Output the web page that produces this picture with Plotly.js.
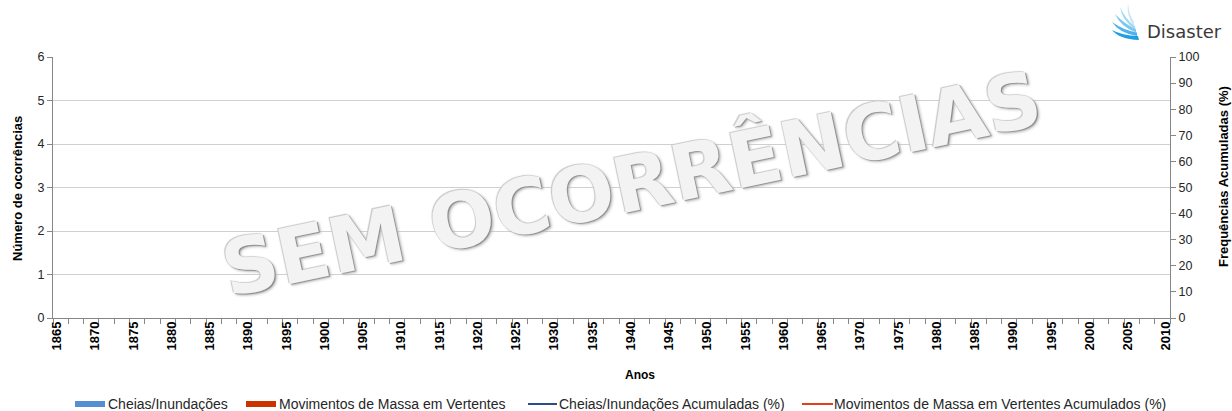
<!DOCTYPE html>
<html>
<head>
<meta charset="utf-8">
<script src="https://cdn.plot.ly/plotly-3.0.1.min.js"></script>
<style>html,body{margin:0;padding:0;background:#fff;}#chart{width:1232px;height:411px;}</style>
</head>
<body>
<div id="chart"></div>
<script>
// ---- data (no occurrences recorded) ----
const years = [1865,1866,1867,1868,1869,1870,1871,1872,1873,1874,1875,1876,1877,1878,1879,1880,1881,1882,1883,1884,1885,1886,1887,1888,1889,1890,1891,1892,1893,1894,1895,1896,1897,1898,1899,1900,1901,1902,1903,1904,1905,1906,1907,1908,1909,1910,1911,1912,1913,1914,1915,1916,1917,1918,1919,1920,1921,1922,1923,1924,1925,1926,1927,1928,1929,1930,1931,1932,1933,1934,1935,1936,1937,1938,1939,1940,1941,1942,1943,1944,1945,1946,1947,1948,1949,1950,1951,1952,1953,1954,1955,1956,1957,1958,1959,1960,1961,1962,1963,1964,1965,1966,1967,1968,1969,1970,1971,1972,1973,1974,1975,1976,1977,1978,1979,1980,1981,1982,1983,1984,1985,1986,1987,1988,1989,1990,1991,1992,1993,1994,1995,1996,1997,1998,1999,2000,2001,2002,2003,2004,2005,2006,2007,2008,2009,2010];
const cheias = [0,0,0,0,0,0,0,0,0,0,0,0,0,0,0,0,0,0,0,0,0,0,0,0,0,0,0,0,0,0,0,0,0,0,0,0,0,0,0,0,0,0,0,0,0,0,0,0,0,0,0,0,0,0,0,0,0,0,0,0,0,0,0,0,0,0,0,0,0,0,0,0,0,0,0,0,0,0,0,0,0,0,0,0,0,0,0,0,0,0,0,0,0,0,0,0,0,0,0,0,0,0,0,0,0,0,0,0,0,0,0,0,0,0,0,0,0,0,0,0,0,0,0,0,0,0,0,0,0,0,0,0,0,0,0,0,0,0,0,0,0,0,0,0,0,0];
const movimentos = [0,0,0,0,0,0,0,0,0,0,0,0,0,0,0,0,0,0,0,0,0,0,0,0,0,0,0,0,0,0,0,0,0,0,0,0,0,0,0,0,0,0,0,0,0,0,0,0,0,0,0,0,0,0,0,0,0,0,0,0,0,0,0,0,0,0,0,0,0,0,0,0,0,0,0,0,0,0,0,0,0,0,0,0,0,0,0,0,0,0,0,0,0,0,0,0,0,0,0,0,0,0,0,0,0,0,0,0,0,0,0,0,0,0,0,0,0,0,0,0,0,0,0,0,0,0,0,0,0,0,0,0,0,0,0,0,0,0,0,0,0,0,0,0,0,0];
// cumulative frequencies are undefined when there are no occurrences
const cheiasAcum = [];
const movimentosAcum = [];
const xTickLabels = ['1865','1870','1875','1880','1885','1890','1895','1900','1905','1910','1915','1920','1925','1930','1935','1940','1945','1950','1955','1960','1965','1970','1975','1980','1985','1990','1995','2000','2005','2010'];
const seriesNames = ['Cheias/Inundações','Movimentos de Massa em Vertentes','Cheias/Inundações Acumuladas (%)','Movimentos de Massa em Vertentes Acumulados (%)'];
const watermark = 'SEM OCORRÊNCIAS';
const xTitle = 'Anos';
const yTitle = 'Número de ocorrências';
const y2Title = 'Frequências Acumuladas (%)';
const logoText = 'Disaster';

// ---- styling ----
const COLORS = ['#558ED5', '#CC3300', '#2E4C86', '#E0401A'];
const FONT = 'Liberation Sans, Arial, sans-serif';
const AXC = '#868686';
const L = 53, R = 1170, T = 57, B = 318;
const px = v => (v - L) / (R - L);
const py = v => (B - v) / (B - T);
const toPaper = s => s.replace(/(-?[\d.]+),(-?[\d.]+)/g, (m, a, b) => px(+a).toFixed(5) + ',' + py(+b).toFixed(5));

const traces = [
  {type: 'bar', name: seriesNames[0], x: years, y: cheias, marker: {color: COLORS[0]}, xaxis: 'x', yaxis: 'y', showlegend: false},
  {type: 'bar', name: seriesNames[1], x: years, y: movimentos, marker: {color: COLORS[1]}, xaxis: 'x', yaxis: 'y', showlegend: false},
  {type: 'scatter', mode: 'lines', name: seriesNames[2], x: years.slice(0, cheiasAcum.length), y: cheiasAcum, line: {color: COLORS[2], width: 2}, xaxis: 'x2', yaxis: 'y2', showlegend: false},
  {type: 'scatter', mode: 'lines', name: seriesNames[3], x: years.slice(0, movimentosAcum.length), y: movimentosAcum, line: {color: COLORS[3], width: 2}, xaxis: 'x2', yaxis: 'y2', showlegend: false}
];

const xRange = [years[0] - 0.5, years[years.length - 1] + 0.5];

// custom legend
const legY = 404;
const legendItems = [
  {kind: 'rect', x0: 75, x1: 105, tx: 106},
  {kind: 'rect', x0: 246, x1: 276, tx: 277},
  {kind: 'line', x0: 528, x1: 557, tx: 557},
  {kind: 'line', x0: 802, x1: 833, tx: 832}
];
const shapes = [];
const annotations = [];
legendItems.forEach((it, i) => {
  if (it.kind === 'rect') {
    shapes.push({type: 'rect', xref: 'paper', yref: 'paper', x0: px(it.x0), x1: px(it.x1), y0: py(legY + 3), y1: py(legY - 3), fillcolor: COLORS[i], line: {width: 0}});
  } else {
    shapes.push({type: 'line', xref: 'paper', yref: 'paper', x0: px(it.x0), x1: px(it.x1), y0: py(legY), y1: py(legY), line: {color: COLORS[i], width: 2}});
  }
  annotations.push({xref: 'paper', yref: 'paper', x: px(it.tx), y: py(legY), xanchor: 'left', yanchor: 'middle', text: seriesNames[i], showarrow: false, font: {family: FONT, size: 14, color: '#262626'}});
});

// logo wing feathers
const feathers = [
  ['M 1112,30 Q 1119,39 1139,40 L 1138,36 Q 1122,35.5 1112,30 Z', '#1E9FE5'],
  ['M 1112,22 Q 1119,33 1137,36 L 1137,32.5 Q 1123,30 1112,22 Z', '#4DB3EA'],
  ['M 1115,14 Q 1121,27 1136,32.5 L 1136,29 Q 1125,24.5 1115,14 Z', '#7CC6EF'],
  ['M 1120,7 Q 1122,21 1135,29 L 1135,26 Q 1126,20 1120,7 Z', '#A5D8F3'],
  ['M 1128,3 Q 1126,16 1134,26 L 1134,22 Q 1129,15 1128,3 Z', '#C8E6F7']
];
feathers.forEach(f => shapes.push({type: 'path', xref: 'paper', yref: 'paper', path: toPaper(f[0]), fillcolor: f[1], line: {width: 0}}));

annotations.push(
  {xref: 'paper', yref: 'paper', x: px(1145), y: py(31), xanchor: 'left', yanchor: 'middle', text: logoText, showarrow: false, font: {family: 'DejaVu Sans, sans-serif', size: 18, color: '#3a3a3a'}},
  {xref: 'paper', yref: 'paper', x: px(631), y: py(184), xanchor: 'center', yanchor: 'middle', text: watermark, textangle: -12, showarrow: false,
   font: {family: 'DejaVu Sans, Verdana, sans-serif', size: 77, weight: 700, color: '#f3f3f3', shadow: '1px 1px 1px #8c8c8c, -1px -1px 1px #c8c8c8, 2px 2px 3px #b8b8b8'}},
  {xref: 'paper', yref: 'paper', x: px(640), y: py(375), xanchor: 'center', yanchor: 'middle', text: xTitle, showarrow: false, font: {family: FONT, size: 12, weight: 'bold', color: '#000'}},
  {xref: 'paper', yref: 'paper', x: px(17), y: py(189), xanchor: 'center', yanchor: 'middle', text: yTitle, textangle: -90, showarrow: false, font: {family: FONT, size: 13, weight: 'bold', color: '#000'}},
  {xref: 'paper', yref: 'paper', x: px(1223), y: py(177), xanchor: 'center', yanchor: 'middle', text: y2Title, textangle: -90, showarrow: false, font: {family: FONT, size: 13, weight: 'bold', color: '#000'}}
);

const layout = {
  width: 1232, height: 411,
  margin: {l: L, r: 1232 - R, t: T, b: 411 - B, pad: 0},
  paper_bgcolor: '#ffffff', plot_bgcolor: '#ffffff',
  showlegend: false,
  barmode: 'group',
  font: {family: FONT, size: 12, color: '#262626'},
  xaxis: {range: xRange, tickmode: 'linear', tick0: xRange[0], dtick: 2, ticks: 'outside', ticklen: 5, tickcolor: AXC, tickwidth: 1,
          showticklabels: false, showgrid: false, zeroline: false, showline: true, linecolor: AXC, linewidth: 1, fixedrange: true},
  xaxis2: {overlaying: 'x', anchor: 'y', side: 'bottom', range: xRange, tickmode: 'array', tickvals: xTickLabels.map(Number), ticktext: xTickLabels,
           ticks: '', tickangle: -90, tickfont: {family: FONT, size: 13, weight: 'bold', color: '#000'}, showgrid: false, zeroline: false, showline: false, fixedrange: true},
  yaxis: {range: [0, 6], tickmode: 'linear', tick0: 0, dtick: 1, ticks: 'outside', ticklen: 5, tickcolor: AXC, showline: true, linecolor: AXC,
          gridcolor: '#d0d0d0', gridwidth: 1, zeroline: false, tickfont: {family: FONT, size: 12.5, color: '#262626'}, fixedrange: true},
  yaxis2: {overlaying: 'y', side: 'right', anchor: 'x', range: [0, 100], tickmode: 'linear', tick0: 0, dtick: 10, ticks: 'outside', ticklen: 5,
           tickcolor: AXC, showline: true, linecolor: AXC, showgrid: false, zeroline: false, tickfont: {family: FONT, size: 12.5, color: '#262626'}, fixedrange: true},
  shapes: shapes,
  annotations: annotations
};

Plotly.newPlot('chart', traces, layout, {displayModeBar: false, staticPlot: true});
</script>
</body>
</html>
